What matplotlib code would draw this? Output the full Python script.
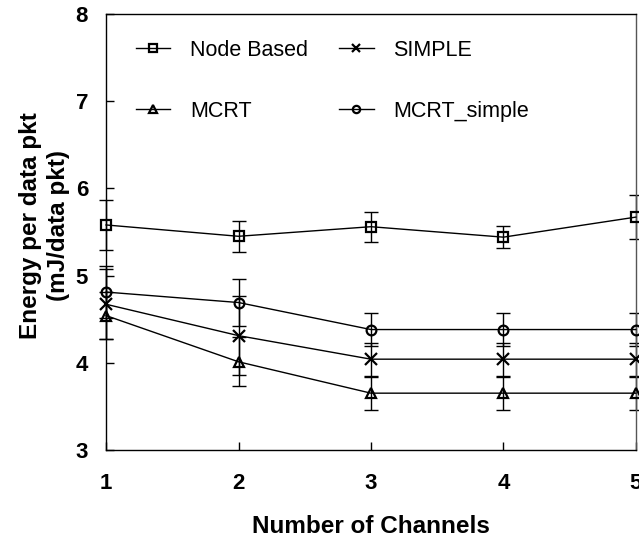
import matplotlib.pyplot as plt

plt.rcParams['font.family'] = ['Liberation Sans', 'DejaVu Sans']

channels = [1, 2, 3, 4, 5]

node_based = [5.58, 5.45, 5.56, 5.44, 5.67]
node_based_err = [0.29, 0.18, 0.17, 0.13, 0.25]

simple = [4.67, 4.31, 4.04, 4.04, 4.04]
simple_err = [0.40, 0.45, 0.19, 0.19, 0.19]

mcrt = [4.54, 4.01, 3.65, 3.65, 3.65]
mcrt_err = [0.27, 0.28, 0.19, 0.19, 0.19]

mcrt_simple = [4.81, 4.69, 4.38, 4.38, 4.38]
mcrt_simple_err = [0.30, 0.27, 0.19, 0.19, 0.19]

series = [
    ("Node Based", node_based, node_based_err, "s"),
    ("SIMPLE", simple, simple_err, "x"),
    ("MCRT", mcrt, mcrt_err, "^"),
    ("MCRT_simple", mcrt_simple, mcrt_simple_err, "o"),
]

fig = plt.figure(figsize=(6.39, 5.40), dpi=100)
ax = fig.add_axes([0.166, 0.167, 0.829, 0.807])

handles = []
for label, vals, errs, mk in series:
    ax.errorbar(channels, vals, yerr=errs, fmt="none", ecolor="black",
                elinewidth=1.0, capsize=5, capthick=1.0, clip_on=False, zorder=2)
    (h,) = ax.plot(channels, vals, color="black", linewidth=1.0, marker=mk,
                   markersize=7 if mk != "x" else 8, markerfacecolor="none",
                   markeredgecolor="black", markeredgewidth=1.6,
                   clip_on=False, label=label, zorder=3)
    handles.append(h)

ax.set_xlim(1, 5)
ax.set_ylim(3, 8)
ax.set_xticks(channels)
ax.set_yticks([3, 4, 5, 6, 7, 8])
ax.tick_params(direction="in", length=6, width=1.0, labelsize=16,
               top=False, right=False)
ax.tick_params(axis="x", pad=17)
ax.tick_params(axis="y", pad=13)
for t in ax.get_xticklabels() + ax.get_yticklabels():
    t.set_fontweight("bold")

for s in ax.spines.values():
    s.set_linewidth(1.0)
ax.spines["right"].set_color("#555555")

ax.set_xlabel("Number of Channels", fontsize=17.5, fontweight="bold", labelpad=15)
ax.set_ylabel("Energy per data pkt\n(mJ/data pkt)", fontsize=17.5,
              fontweight="bold", linespacing=1.3)
ax.yaxis.set_label_coords(-0.068, 0.515)

# legend order: Node Based, SIMPLE / MCRT, MCRT_simple (row-wise)
order = [handles[0], handles[2], handles[1], handles[3]]
ax.legend(handles=order, labels=[h.get_label() for h in order], ncol=2,
          frameon=False, fontsize=15.5, loc="upper left",
          bbox_to_anchor=(0.02, 0.985), handlelength=1.6, handletextpad=0.9,
          columnspacing=1.45, labelspacing=1.85, markerscale=0.75)

fig.savefig("out.png", dpi=100)
